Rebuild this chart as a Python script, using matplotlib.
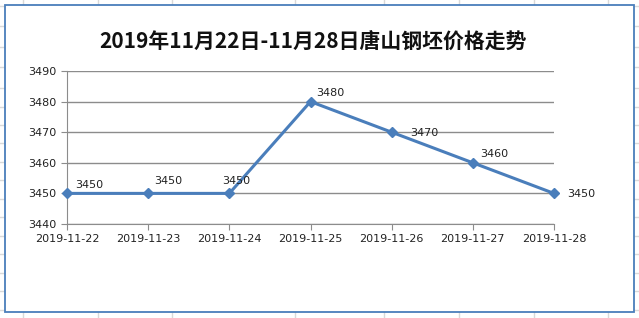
import matplotlib.pyplot as plt
from matplotlib.patches import Rectangle
from matplotlib.lines import Line2D

plt.rcParams['font.family'] = ['Noto Sans CJK SC', 'DejaVu Sans']

dates = ['2019-11-22', '2019-11-23', '2019-11-24', '2019-11-25',
         '2019-11-26', '2019-11-27', '2019-11-28']
prices = [3450, 3450, 3450, 3480, 3470, 3460, 3450]
yticks = [3440, 3450, 3460, 3470, 3480, 3490]
title = '2019年11月22日-11月28日唐山钢坯价格走势'

W, H = 639, 318
fig = plt.figure(figsize=(W / 100, H / 100), dpi=100)

# spreadsheet cell lines behind the chart
for x in [23, 98, 172, 295, 384, 459, 534, 608]:
    fig.add_artist(Line2D([x / W, x / W], [0, 1], color='#d9d9d9', lw=1, zorder=-3))
for y in [6, 26, 47, 67, 88, 107, 125, 143, 162, 180, 199, 217, 236, 254, 273, 291, 310]:
    fig.add_artist(Line2D([0, 1], [1 - y / H, 1 - y / H], color='#d9d9d9', lw=1, zorder=-3))
fig.add_artist(Rectangle((5 / W, 1 - 312 / H), 629 / W, 307 / H,
                         facecolor='white', edgecolor='#4a7ebb', lw=1.3, zorder=-2))

ax = fig.add_axes([67 / W, 1 - 224 / H, 487 / W, 153 / H])
ax.set_facecolor('none')
x = list(range(len(dates)))
ax.plot(x, prices, color='#4a7ebb', lw=2.2, marker='D', ms=5, zorder=3,
        clip_on=False)

offsets = [(22, 8), (20, 12), (7, 12), (20, 9), (33, -1), (21, 9), (27, -1)]
for xi, p, off in zip(x, prices, offsets):
    ax.annotate(str(p), (xi, p), xytext=off, textcoords='offset pixels',
                ha='center', va='center', fontsize=8, color='#222222',
                family=['DejaVu Sans'])

ax.set_xlim(0, len(dates) - 1)
ax.set_ylim(yticks[0], yticks[-1])
ax.set_yticks(yticks)
ax.set_xticks(x)
ax.set_xticklabels(dates)
ax.yaxis.grid(True, color='#8c8c8c', lw=1)
ax.set_axisbelow(True)
for s in ['top', 'right']:
    ax.spines[s].set_visible(False)
for s in ['left', 'bottom']:
    ax.spines[s].set_color('#8c8c8c')
ax.tick_params(colors='#8c8c8c', labelcolor='#222222', labelsize=8, length=4)
for lab in ax.get_xticklabels() + ax.get_yticklabels():
    lab.set_family(['DejaVu Sans'])

fig.text(313 / W, 1 - 42 / H, title, ha='center', va='center',
         fontsize=15, fontweight='bold', color='#111111')

fig.savefig('out.png', dpi=100)
